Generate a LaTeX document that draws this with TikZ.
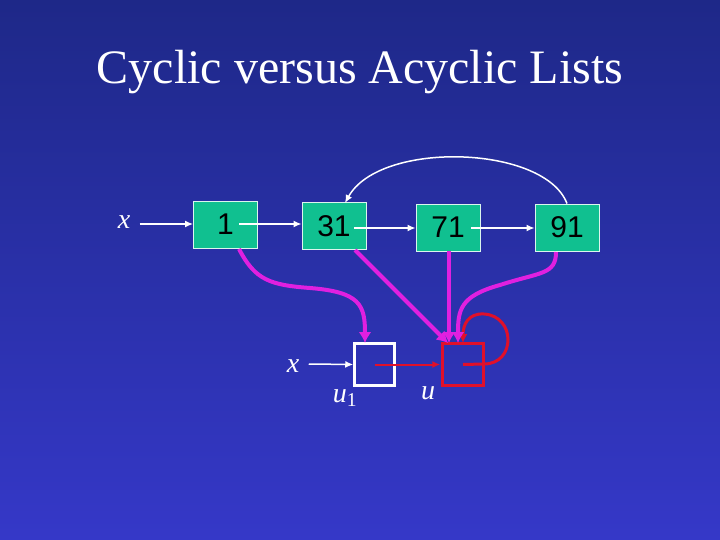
\documentclass[tikz,border=0pt]{standalone}
\usepackage{fontspec}
\setmainfont{Liberation Serif}
\newfontfamily\sansf{Liberation Sans}
\usetikzlibrary{arrows.meta}
\definecolor{bgtop}{HTML}{1E2888}
\definecolor{bgbot}{HTML}{3538C8}
\definecolor{boxg}{HTML}{10C090}
\definecolor{mag}{HTML}{E020E0}
\definecolor{rd}{HTML}{E0102A}
\begin{document}
\begin{tikzpicture}[x=1pt,y=-1pt,
  cell/.style={draw=white!85!boxg,fill=boxg,line width=0.8pt,minimum width=64pt,minimum height=47pt,inner sep=0pt,font=\sansf\fontsize{30}{30}\selectfont},
  wa/.style={white,line width=1.5pt,-{Latex[length=8pt,width=7pt]}},
  ma/.style={mag,line width=4pt,-{Latex[length=11pt,width=13pt]}},
  lab/.style={white,font=\itshape\fontsize{28}{28}\selectfont}]
\shade[top color=bgtop,bottom color=bgbot] (0,0) rectangle (720,540);
\useasboundingbox (0,0) rectangle (720,540);
\node[white,font=\fontsize{48}{48}\selectfont] (title) at (360,72) {Cyclic versus Acyclic Lists};
\node[cell] (n1) at (225.5,224.5) {1};
\node[cell] (n31) at (334,226) {31};
\node[cell] (n71) at (448,227.5) {71};
\node[cell] (n91) at (567,227.5) {91};
\node[lab] (x1) at (124,222) {x};
\coordinate (d1) at (239,224);
\coordinate (d31) at (354,228);
\coordinate (d71) at (471,228);
\coordinate (t31) at (345,203);
\draw[wa] (x1.east)+(6,2) -- (n1.west |- 0,224);
\draw[wa] (d1) -- (n31.west |- d1);
\draw[wa] (d31) -- (n71.west |- d31);
\draw[wa] (d71) -- (n91.west |- d71);
\draw[wa] (n91.north) .. controls (545,145) and (380,140) .. (t31);
\node[draw=white,line width=2.5pt,minimum width=40pt,minimum height=42pt,inner sep=0pt] (u1) at (374.5,364.5) {};
\node[draw=rd,line width=2.5pt,minimum width=41pt,minimum height=42pt,inner sep=0pt] (u) at (463,364.5) {};
\node[lab] (x2) at (293,366) {x};
\node[lab] (lu1) at (345,398) {u\textsubscript{\upshape 1}};
\node[lab] (lu) at (428,393) {u};
\coordinate (a31) at (448,343);
\coordinate (a71) at (449,343);
\coordinate (a91) at (458,343);
\coordinate (aself) at (463,343);
\coordinate (a1) at (365,343);
\draw[wa] (x2.east)+(6,-2) -- (u1.west);
\draw[rd,line width=2pt,-{Latex[length=8pt,width=7pt]}] (u1.center) -- ([xshift=-1pt]u.west);
\draw[rd,line width=3pt,-{Latex[length=9pt,width=9pt]}] (u.center) -- (484,364) .. controls (516,364) and (516,316) .. (484,314) .. controls (468,313) and (463,325) .. (aself);
\draw[ma] (239,249) .. controls (255,280) and (270,285) .. (310,288) .. controls (360,292) and (365,305) .. (a1);
\draw[ma] (355,250) -- (a31);
\draw[ma] (449,251) -- (a71);
\draw[ma] (556,252) .. controls (556,275) and (540,272) .. (500,285) .. controls (460,296) and (458,310) .. (a91);
\end{tikzpicture}
\end{document}
